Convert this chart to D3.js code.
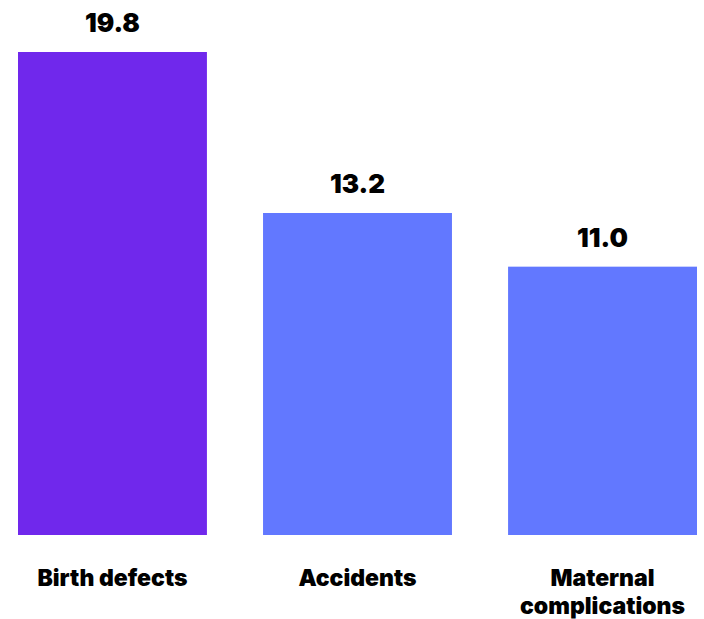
<!DOCTYPE html>
<html>
<head>
<meta charset="utf-8">
<script src="https://cdn.jsdelivr.net/npm/d3@7"></script>
<style>
  html, body { margin: 0; padding: 0; background: #fff; }
  svg text { font-family: Inter, "Noto Sans", sans-serif; font-weight: 900; fill: #000; }
</style>
</head>
<body>
<svg id="chart" width="704" height="619"></svg>
<script>
  const categories = ["Birth defects", "Accidents", "Maternal complications"];
  const labelLines = [["Birth defects"], ["Accidents"], ["Maternal", "complications"]];
  const values = [19.8, 13.2, 11.0];
  const barColors = ["#7028ec", "#6278ff", "#6278ff"];

  const svg = d3.select("#chart");
  const baseY = 535;

  const x = d3.scaleBand()
      .domain(categories)
      .range([18, 697])
      .paddingInner(0.229)
      .paddingOuter(0);

  // 19.8 reaches y=52
  const y = d3.scaleLinear()
      .domain([0, 19.8])
      .range([baseY, 52]);

  const data = categories.map((c, i) => ({ name: c, value: values[i], color: barColors[i], lines: labelLines[i] }));

  svg.selectAll(".bar")
    .data(data)
    .enter().append("rect")
      .attr("class", "bar")
      .attr("x", d => x(d.name))
      .attr("y", d => y(d.value))
      .attr("width", x.bandwidth())
      .attr("height", d => baseY - y(d.value))
      .attr("fill", d => d.color);

  // value labels
  svg.selectAll(".value")
    .data(data)
    .enter().append("text")
      .attr("class", "value")
      .attr("x", d => x(d.name) + x.bandwidth() / 2)
      .attr("y", d => y(d.value) - 20)
      .attr("text-anchor", "middle")
      .attr("font-size", 26)
      .text(d => d.value.toFixed(1));

  // category labels
  const cat = svg.selectAll(".cat")
    .data(data)
    .enter().append("text")
      .attr("class", "cat")
      .attr("text-anchor", "middle")
      .attr("font-size", 23);

  cat.selectAll("tspan")
    .data(d => d.lines.map(l => ({ line: l, cx: x(d.name) + x.bandwidth() / 2 })))
    .enter().append("tspan")
      .attr("x", t => t.cx)
      .attr("y", (t, i) => 586 + i * 28)
      .text(t => t.line);
</script>
</body>
</html>
